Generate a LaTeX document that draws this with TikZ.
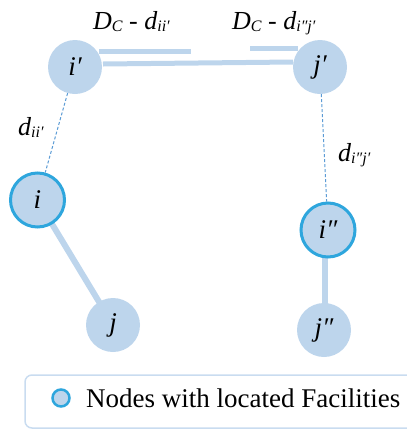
\documentclass[tikz,border=0pt]{standalone}
\usepackage{fontspec}
\newfontfamily\tms{LiberationSerif}[Extension=.ttf,UprightFont=*-Regular,ItalicFont=*-Italic,BoldFont=*-Bold,BoldItalicFont=*-BoldItalic]
\definecolor{nodefill}{HTML}{BDD5EC}
\definecolor{facborder}{HTML}{2EA6DD}
\definecolor{dashblue}{HTML}{5B9BD5}
\definecolor{legborder}{HTML}{C9DCF0}
\newcommand\subtxt[1]{\raisebox{-2pt}{\fontsize{16}{16}\selectfont #1}}
\begin{document}
\begin{tikzpicture}[x=1pt,y=-1pt,
  nd/.style={circle,fill=nodefill,draw=none,minimum size=54pt,inner sep=0pt,
    font=\tms\itshape\fontsize{27}{30}\selectfont},
  fac/.style={nd,draw=facborder,line width=3pt},
  thickln/.style={draw=nodefill,line width=6pt},
  dbl/.style={draw=nodefill,line width=5pt},
  dashln/.style={draw=dashblue,line width=1pt,dash pattern=on 3pt off 2pt},
  lbl/.style={inner sep=0pt,anchor=base west,font=\tms\itshape\fontsize{26}{30}\selectfont},
  legtxt/.style={inner sep=0pt,anchor=base west,font=\tms\fontsize{27}{32}\selectfont}]
\useasboundingbox (0,0) rectangle (407,429);
% coordinates of node centres
\coordinate (cip) at (75,67);
\coordinate (cjp) at (320,67);
\coordinate (ci) at (37.5,200);
\coordinate (cipp) at (328,230);
\coordinate (cj) at (113,325);
\coordinate (cjpp) at (324,330);
% connectors (under nodes)
\draw[thickln] (ci) -- (cj);
\draw[thickln] (325,235) -- (325,320);
% nodes
\node[nd] (ip) at (cip) {i′};
\node[nd] (jp) at (cjp) {j′};
\node[fac] (i) at (ci) {i};
\node[fac] (ipp) at (cipp) {i″};
\node[nd] (j) at (cj) {j};
\node[nd] (jpp) at (cjpp) {j″};
% dashed distances
\draw[dashln] (ip) -- (i);
\draw[dashln] (jp) -- (ipp);
% double / length lines
\coordinate (la) at (103,64);
\coordinate (lb) at (293,62);
\draw[dbl] (la) -- (lb);
\coordinate (sa1) at (99,51);
\coordinate (sa2) at (191,51);
\draw[dbl] (sa1) -- (sa2);
\coordinate (sb1) at (250,48);
\coordinate (sb2) at (298,48);
\draw[dbl] (sb1) -- (sb2);
% labels
\node[lbl] (l1) at (93,29) {D\subtxt{C} - d\subtxt{ii′}};
\node[lbl] (l2) at (232,29) {D\subtxt{C} - d\subtxt{i″j′}};
\node[lbl] (l3) at (18,135) {d\subtxt{ii′}};
\node[lbl] (l4) at (338,161) {d\subtxt{i″j′}};
% legend
\draw[draw=legborder,line width=1.5pt,rounded corners=7pt] (25,375) rectangle (430,428);
\node[circle,fill=nodefill,draw=facborder,line width=2.5pt,minimum size=17pt,inner sep=0pt] (legc) at (61,398) {};
\node[legtxt] (legt) at (86,407) {Nodes with located Facilities};
\end{tikzpicture}
\end{document}
